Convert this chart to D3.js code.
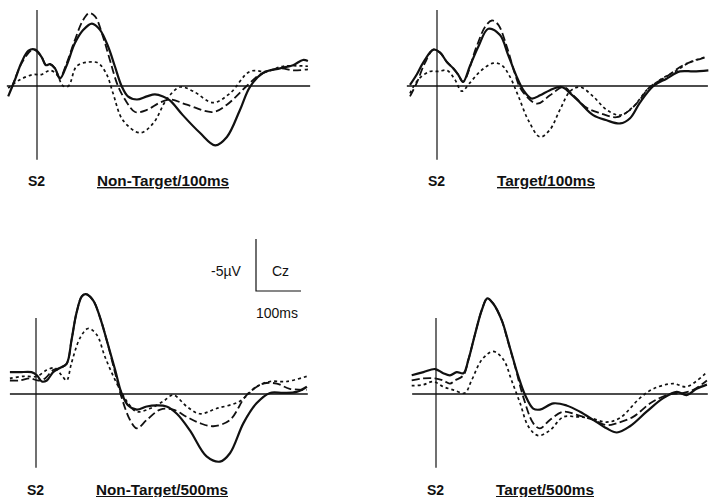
<!DOCTYPE html>
<html>
<head>
<meta charset="utf-8">
<script src="https://cdn.jsdelivr.net/npm/d3@7"></script>
<style>
body{margin:0;background:#fff;}
svg{display:block;font-family:"Liberation Sans",Arial,sans-serif;}
</style>
</head>
<body>
<div class="erp"></div>
<script>
var width=709,
    height=497;

// panel titles
var titles=["Non-Target/100ms","Target/100ms","Non-Target/500ms","Target/500ms"];

// [ms, µV] (negative up)
var ntShortSolid=[[-64,1.0],[-49,-0.6],[-34,-2.3],[-19,-3.4],[-4,-3.5],[10,-2.8],[20,-2.0],[29,-2.1],[40,-1.7],[51,-0.7],[66,-2.0],[84,-4.1],[103,-5.4],[122,-6.0],[140,-5.4],[158,-3.8],[173,-1.9],[188,0],[202,1.0],[222,1.3],[244,1.0],[262,0.8],[280,1.0],[296,1.4],[324,2.8],[362,4.5],[396,5.7],[422,4.9],[451,2.3],[473,0.1],[502,-1.25],[540,-1.7],[569,-2.0],[591,-2.5],[602,-2.4]];
var ntShortDash=[[-56,0.2],[-34,-2.2],[-9,-3.5],[10,-2.8],[20,-2.0],[29,-2.1],[40,-1.7],[51,-0.8],[66,-2.2],[84,-4.4],[102,-6.3],[116,-7.0],[129,-6.7],[147,-4.7],[162,-2.5],[180,0],[200,1.6],[218,2.5],[244,2.3],[273,1.6],[296,1.3],[333,1.8],[391,2.5],[422,1.8],[466,0],[496,-1.1],[540,-1.7],[569,-1.5],[602,-1.6]];
var ntShortDot=[[-64,0.2],[-38,-0.6],[-9,-1.1],[10,-1.1],[29,-1.5],[44,-1.1],[58,0],[70,0],[88,-1.9],[114,-2.3],[136,-2.2],[155,-1.1],[169,0.7],[191,3.3],[229,4.5],[258,3.6],[288,1.3],[318,0.1],[347,0.5],[391,1.6],[429,0.7],[473,-1.4],[510,-1.4],[547,-1.9],[602,-1.9]];

var tShortSolid=[[-60,-0.1],[-45,-1.1],[-30,-2.3],[-8,-3.5],[7,-3.2],[22,-2.3],[36,-1.7],[47,-1.1],[58,-0.4],[73,-1.9],[92,-3.8],[114,-5.5],[140,-4.9],[158,-3.0],[177,-0.9],[192,0.4],[210,1.2],[229,0.9],[251,0.4],[277,0.1],[296,0.7],[318,1.6],[347,2.8],[377,3.3],[407,3.6],[429,3.1],[451,1.6],[481,0],[510,-0.7],[540,-1.4],[570,-1.4],[603,-1.5]];
var tShortDash=[[-60,1.0],[-45,-0.3],[-27,-2.2],[-8,-3.5],[7,-3.2],[22,-2.3],[36,-1.7],[47,-1.1],[58,-0.4],[88,-3.8],[107,-5.7],[122,-6.3],[136,-5.9],[155,-3.8],[173,-1.2],[188,0.4],[222,1.7],[251,0.9],[281,0.1],[303,0.9],[333,2.1],[362,2.6],[399,3.0],[429,2.3],[451,1.3],[473,0.1],[510,-0.9],[547,-2.0],[577,-2.5],[599,-2.8]];
var tShortDot=[[-60,0.7],[-42,-0.6],[-16,-1.4],[3,-1.4],[22,-1.5],[40,-0.6],[55,0.5],[73,-0.3],[96,-1.4],[125,-2.2],[144,-2.0],[162,-0.9],[181,1.0],[203,3.3],[229,4.9],[251,4.2],[273,2.3],[296,0.5],[318,0.1],[347,1.0],[377,2.3],[407,2.8],[436,2.0],[466,0.4],[496,-0.6],[533,-1.5],[562,-2.3],[599,-2.8]];

var ntLongSolid=[[-58,-2.1],[-36,-2.1],[-10,-2.1],[2,-1.8],[13,-1.2],[24,-1.3],[38,-2.1],[53,-2.5],[68,-2.9],[79,-5.2],[90,-7.8],[102,-9.4],[111,-9.6],[127,-9.0],[142,-7.4],[157,-5.2],[176,-2.3],[190,-0.1],[205,1.1],[224,1.5],[246,1.2],[268,1.1],[290,1.2],[313,1.9],[342,3.5],[379,6.0],[409,6.5],[431,5.7],[461,2.8],[490,0.9],[520,-0.1],[550,-0.1],[579,-0.2],[602,-0.7]];
var ntLongDash=[[-58,-1.3],[-36,-1.3],[-13,-1.5],[5,-1.3],[20,-1.5],[38,-2.3],[53,-2.5],[68,-2.9],[79,-5.2],[90,-7.8],[102,-9.4],[111,-9.6],[127,-9.0],[142,-7.4],[157,-5.2],[176,-2.0],[190,0.3],[209,2.5],[224,3.3],[246,2.5],[276,1.5],[305,1.5],[335,2.2],[364,2.8],[394,3.1],[431,2.5],[468,0.1],[505,-1.0],[535,-1.0],[564,-0.5],[602,-0.4]];
var ntLongDot=[[-58,-1.5],[-28,-1.7],[2,-1.7],[24,-2.3],[42,-2.5],[57,-1.8],[68,-1.3],[79,-3.0],[98,-5.4],[116,-6.3],[135,-5.7],[153,-3.6],[172,-1.7],[187,-0.4],[205,0.9],[224,1.7],[253,1.4],[283,0.7],[305,0.1],[335,1.2],[364,1.9],[401,1.4],[453,0.7],[490,-0.7],[520,-1.2],[557,-1.2],[602,-1.7]];

var tLongSolid=[[-54,-1.8],[-28,-2.1],[-2,-2.4],[16,-2.0],[31,-1.8],[46,-2.1],[61,-2.0],[72,-3.3],[87,-5.8],[102,-8.1],[114,-9.2],[127,-8.7],[146,-7.1],[164,-4.5],[183,-1.7],[198,0.1],[216,1.4],[231,1.5],[261,0.9],[290,1.1],[320,1.7],[350,2.5],[379,3.3],[402,3.7],[431,3.1],[468,1.7],[505,0.4],[535,-0.2],[557,0.1],[579,-0.5],[602,-0.9]];
var tLongDash=[[-54,-1.3],[-28,-1.5],[-2,-1.5],[16,-1.3],[31,-1.0],[42,-1.3],[61,-1.8],[72,-3.3],[87,-5.8],[102,-8.1],[114,-9.2],[127,-8.7],[146,-7.1],[157,-5.5],[176,-2.6],[194,0.3],[216,2.8],[231,3.3],[253,2.5],[283,1.7],[313,2.0],[350,2.5],[379,3.0],[402,2.8],[438,2.2],[476,0.9],[513,0.1],[550,-0.1],[572,-0.4],[602,-1.3]];
var tLongDot=[[-54,-0.8],[-28,-0.9],[-6,-1.2],[16,-0.7],[38,-0.4],[64,-0.1],[79,-1.3],[102,-3.3],[127,-4.1],[150,-3.3],[168,-1.3],[187,0.9],[205,3.1],[227,4.0],[253,3.5],[283,2.2],[313,2.2],[342,2.3],[379,2.7],[409,2.3],[453,0.4],[483,-0.5],[527,-1.0],[557,-0.7],[602,-2.1]];

var series=[
    [ntShortSolid,ntShortDash,ntShortDot],
    [tShortSolid,tShortDash,tShortDot],
    [ntLongSolid,ntLongDash,ntLongDot],
    [tLongSolid,tLongDash,tLongDot]
];

// baseline extent of each panel, ms
var baseStart=[-67,-67,-58,-53],
    baseEnd=[607,602,604,604];

var origins=[[37,86],[437,86],[36,394],[436,394]];

var styles=[
    {w:2.2,dash:null},
    {w:1.8,dash:"8,3.5"},
    {w:1.7,dash:"3,3"}
];

var svg=d3.select('.erp')
    .append('svg')
        .attr("width",width)
        .attr("height",height);

titles.forEach(function(title,i){
    var o=origins[i];
    var x=d3.scaleLinear().domain([0,100]).range([o[0],o[0]+45]);
    var y=d3.scaleLinear().domain([0,5]).range([o[1],o[1]+52]);
    var g=svg.append('g');

    // axes
    g.append('line')
        .attr('x1',x(baseStart[i])).attr('x2',x(baseEnd[i]))
        .attr('y1',y(0)).attr('y2',y(0))
        .attr('stroke','#111').attr('stroke-width',1.3);
    g.append('line')
        .attr('x1',x(0)).attr('x2',x(0))
        .attr('y1',y(-7.3)).attr('y2',y(7.1))
        .attr('stroke','#111').attr('stroke-width',1.2);

    var line=d3.line()
        .x(d=>x(d[0]))
        .y(d=>y(d[1]))
        .curve(d3.curveCatmullRom.alpha(0.5));

    g.selectAll('.wave')
        .data(series[i])
        .enter()
        .append('path')
        .classed('wave',true)
        .attr('d',line)
        .attr('fill','none')
        .attr('stroke','#111')
        .attr('stroke-width',(d,k)=>styles[k].w)
        .attr('stroke-dasharray',(d,k)=>styles[k].dash)
        .attr('stroke-linejoin','round');

    var ty=o[1]+(i<2?100:101);
    g.append('text')
        .attr('x',o[0]-9).attr('y',ty)
        .attr('font-size',14).attr('font-weight','bold')
        .attr('fill','#111')
        .text('S2');
    g.append('text')
        .attr('x',o[0]+60).attr('y',ty)
        .attr('font-size',14).attr('font-weight','bold')
        .attr('text-decoration','underline')
        .attr('textLength',title.length>13?132:98)
        .attr('lengthAdjust','spacingAndGlyphs')
        .attr('fill','#111')
        .text(title);
});

// calibration bar
var cx=d3.scaleLinear().domain([0,100]).range([256,301]);
var cy=d3.scaleLinear().domain([-5,0]).range([239,291]);
svg.append('path')
    .attr('d',`M${cx(0)},${cy(-5)}V${cy(0)}H${cx(100)}`)
    .attr('fill','none').attr('stroke','#111').attr('stroke-width',1.2);
svg.append('text').attr('x',211).attr('y',276).attr('font-size',14).attr('fill','#111').text('-5µV');
svg.append('text').attr('x',272).attr('y',276).attr('font-size',14).attr('fill','#111').text('Cz');
svg.append('text').attr('x',256).attr('y',318).attr('font-size',14).attr('fill','#111').text('100ms');
</script>
</body>
</html>
